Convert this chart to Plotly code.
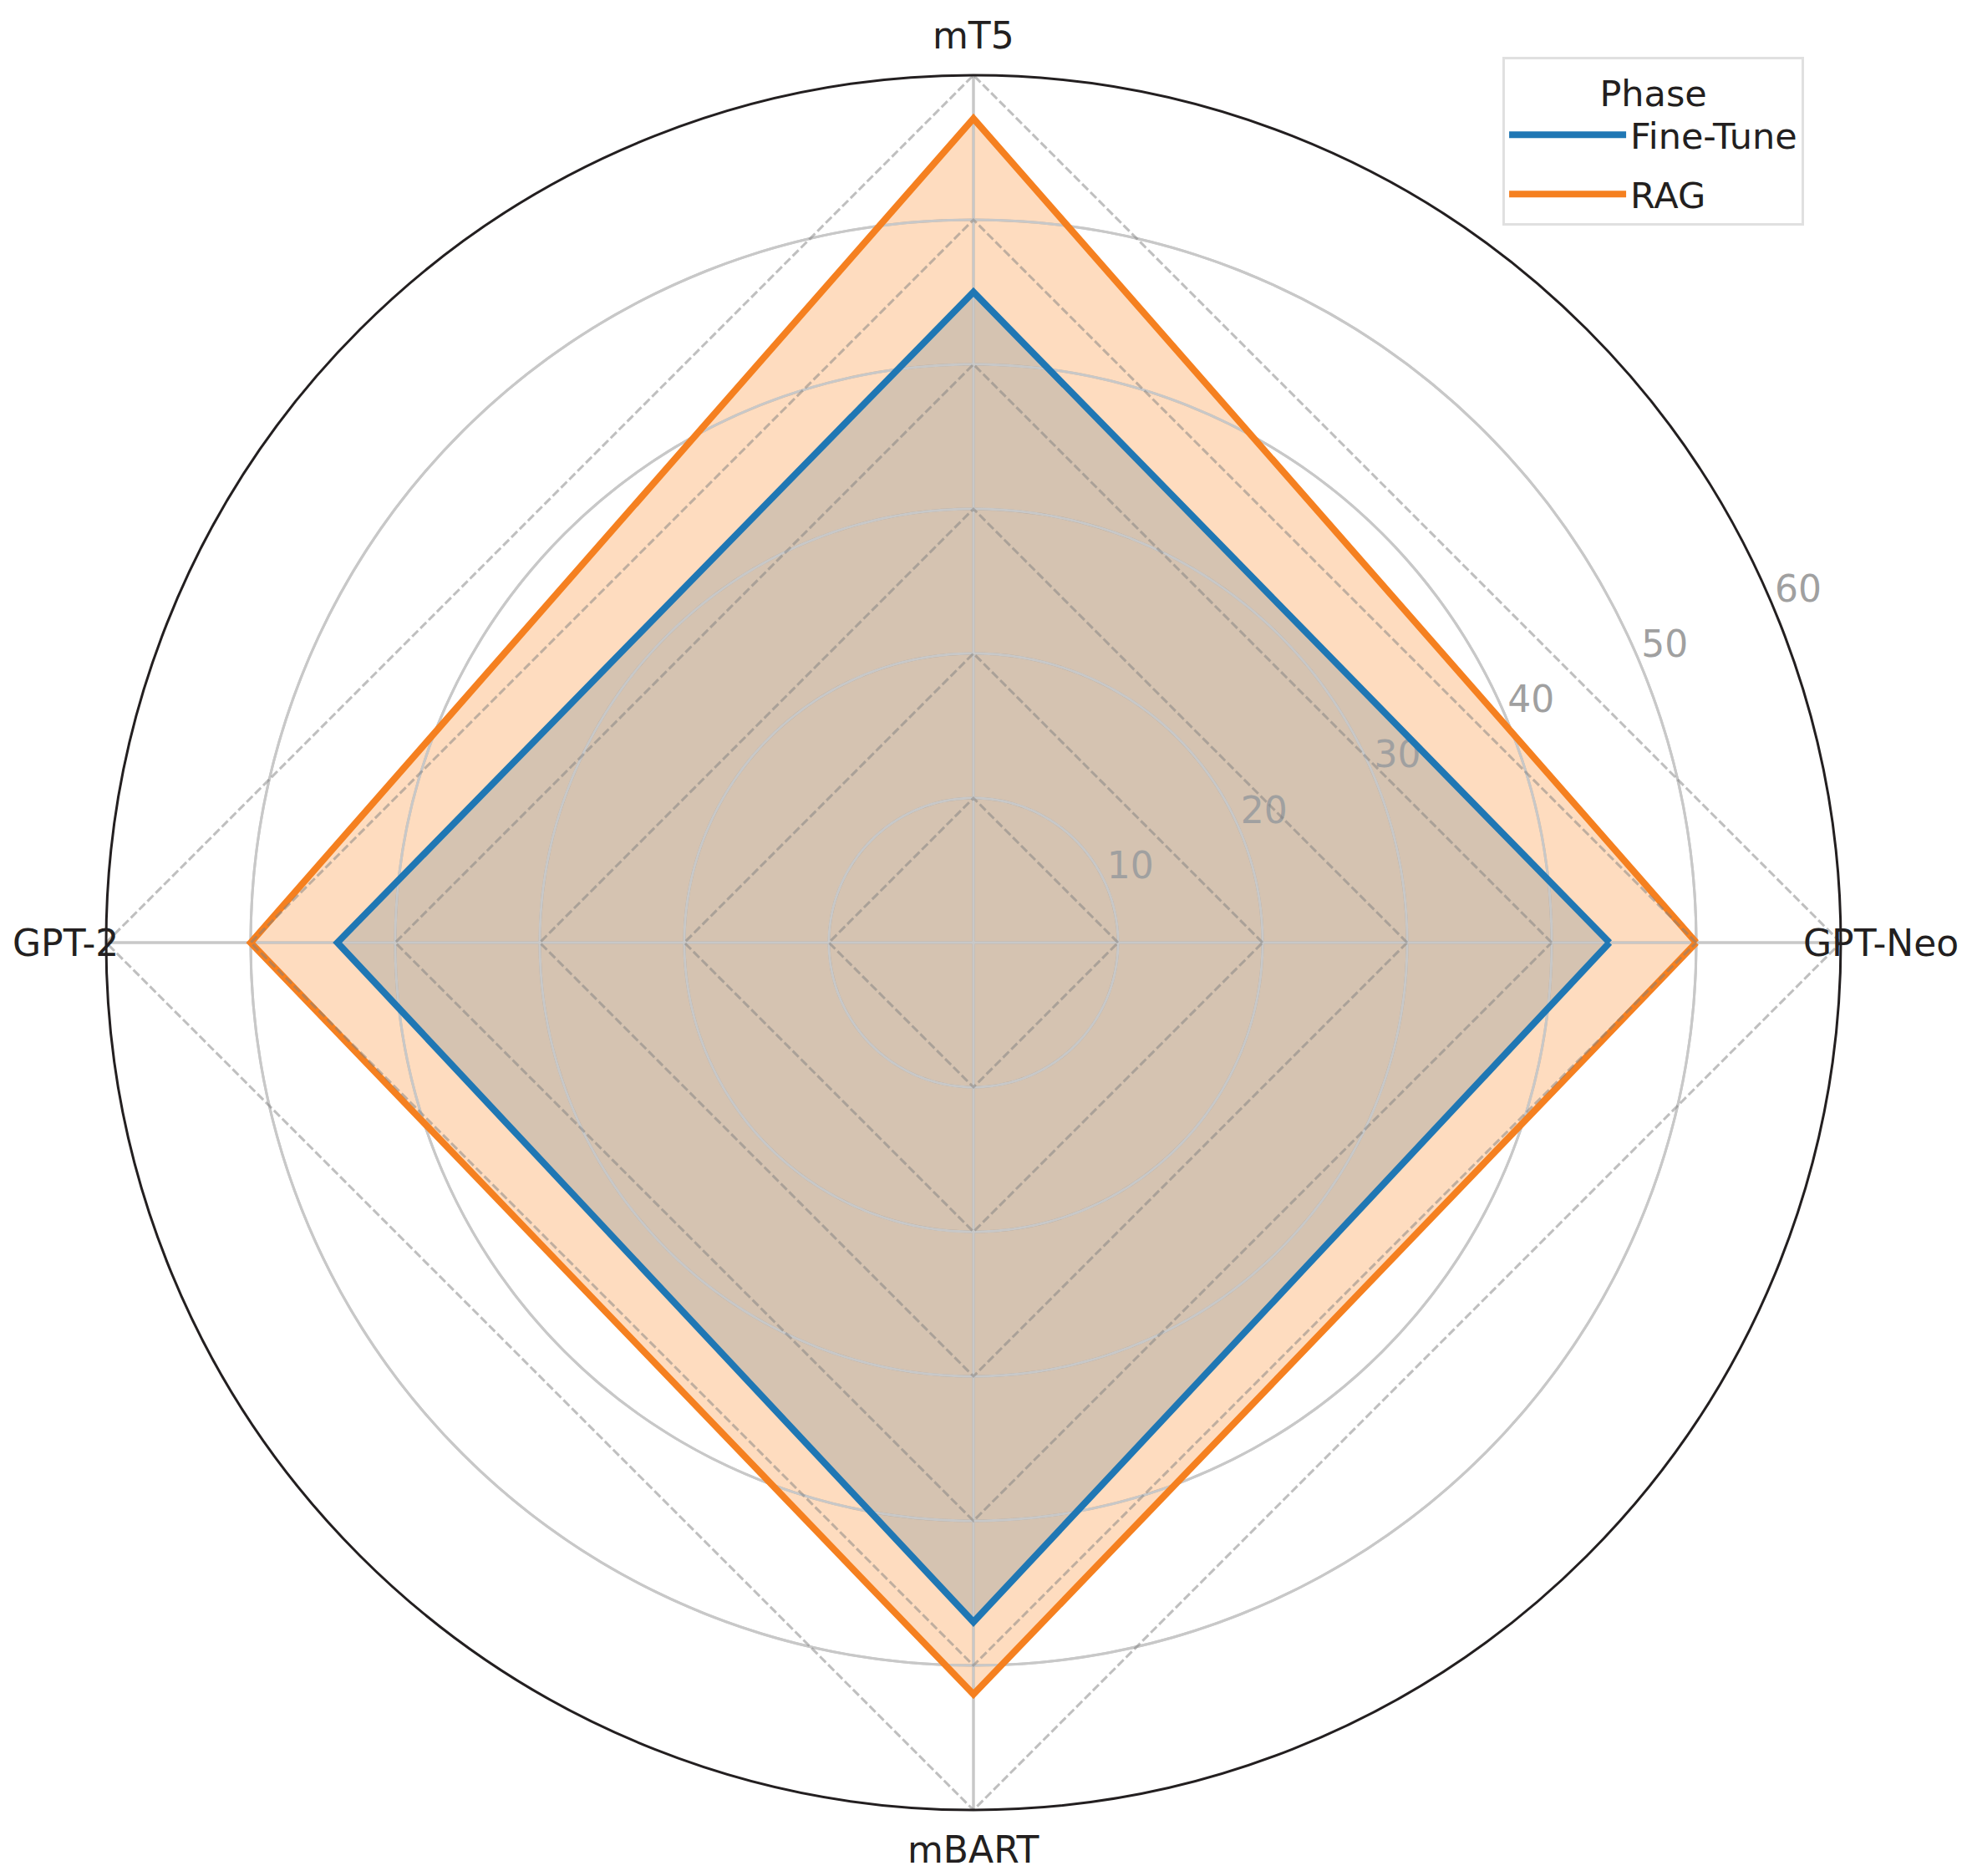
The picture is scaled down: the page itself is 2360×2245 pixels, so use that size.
import numpy as np
import plotly.graph_objects as go

# ---------------- data ----------------
categories = ["GPT-Neo", "mT5", "GPT-2", "mBART"]
fine_tune = [44, 45, 44, 47]
rag = [50, 57, 50, 52]
series_names = ["Fine-Tune", "RAG"]
radial_ticks = [10, 20, 30, 40, 50, 60]
legend_title = "Phase"

# ---------------- style ----------------
W, H = 2360, 2245
FONT = "DejaVu Sans"
TXT = "#231f20"
BLUE = "#1f77b4"
ORANGE = "#f58020"
FILLS = ["rgba(31,119,180,0.25)", "rgba(250,127,20,0.27)"]
LINES = [BLUE, ORANGE]
GRID = "#c8c8c8"
DASH = "rgba(128,128,128,0.5)"

n = len(categories)
angles = [360.0 * i / n for i in range(n)]
theta_closed = angles + [angles[0]]
rmax = radial_ticks[-1]

dom_x = [0.05381, 0.93347]
dom_y = [0.03519, 0.95991]

fig = go.Figure()
series = [fine_tune, rag]

# fills
for vals, fc in zip(series, FILLS):
    fig.add_trace(go.Scatterpolar(
        r=vals + [vals[0]], theta=theta_closed, mode="lines",
        fill="toself", fillcolor=fc, line=dict(width=0, color=fc),
        showlegend=False, hoverinfo="skip"))

# grid overlay (circles and spokes drawn above the fills)
circ_theta = np.linspace(0, 360, 361)
for t in radial_ticks[:-1]:
    fig.add_trace(go.Scatterpolar(
        r=[t] * len(circ_theta), theta=circ_theta, mode="lines",
        line=dict(color=GRID, width=3), showlegend=False, hoverinfo="skip"))
for a in angles:
    fig.add_trace(go.Scatterpolar(
        r=[0, rmax], theta=[a, a], mode="lines",
        line=dict(color=GRID, width=3), showlegend=False, hoverinfo="skip"))

# radial tick labels
fig.add_trace(go.Scatterpolar(
    r=radial_ticks, theta=[22.5] * len(radial_ticks), mode="text",
    text=[str(t) for t in radial_ticks], textposition="top right",
    textfont=dict(family=FONT, size=44, color="#a0a0a0"),
    cliponaxis=False, showlegend=False, hoverinfo="skip"))

# data lines
for vals, name, lc in zip(series, series_names, LINES):
    fig.add_trace(go.Scatterpolar(
        r=vals + [vals[0]], theta=theta_closed, mode="lines", name=name,
        legendgroup=name,
        line=dict(color=lc, width=8), cliponaxis=False))

# dashed polygon grid
for t in radial_ticks:
    fig.add_trace(go.Scatterpolar(
        r=[t] * (n + 1), theta=theta_closed, mode="lines",
        line=dict(color=DASH, width=3, dash="10px,4px"),
        showlegend=False, hoverinfo="skip"))

# category labels as annotations just outside the frame
cx = (dom_x[0] + dom_x[1]) / 2
cy = (dom_y[0] + dom_y[1]) / 2
R_px = (dom_x[1] - dom_x[0]) * W / 2
pad = 48
annotations = []
for cat, a in zip(categories, angles):
    ang = np.deg2rad(a)
    annotations.append(dict(
        text=cat, xref="paper", yref="paper",
        x=cx + (R_px + pad) * np.cos(ang) / W,
        y=cy + (R_px + pad) * np.sin(ang) / H,
        xanchor="center", yanchor="middle", showarrow=False,
        font=dict(family=FONT, size=44, color=TXT)))

fig.update_layout(
    width=W, height=H,
    margin=dict(l=0, r=0, t=0, b=0),
    paper_bgcolor="white",
    font=dict(family=FONT, size=44, color=TXT),
    annotations=annotations,
    polar=dict(
        domain=dict(x=dom_x, y=dom_y),
        bgcolor="white",
        angularaxis=dict(
            rotation=0, direction="counterclockwise",
            tickmode="array", tickvals=angles, showticklabels=False,
            ticks="", showgrid=True, gridcolor=GRID, gridwidth=3,
            showline=True, linecolor=TXT, linewidth=3),
        radialaxis=dict(
            range=[0, rmax], tickmode="array", tickvals=radial_ticks,
            showticklabels=False, ticks="", showline=False,
            showgrid=True, gridcolor=GRID, gridwidth=3),
    ),
    legend=dict(
        x=0.7619, y=0.9697, xanchor="left", yanchor="top",
        title=dict(text=legend_title, side="top center",
                   font=dict(family=FONT, size=43, color=TXT)),
        font=dict(family=FONT, size=43, color=TXT),
        bgcolor="white", bordercolor="#e0e0e0", borderwidth=3,
        itemwidth=140, traceorder="grouped", tracegroupgap=12),
    showlegend=True,
)

fig.write_html("out.html", config={"displayModeBar": False},
               post_script="document.body.style.margin='0';")
